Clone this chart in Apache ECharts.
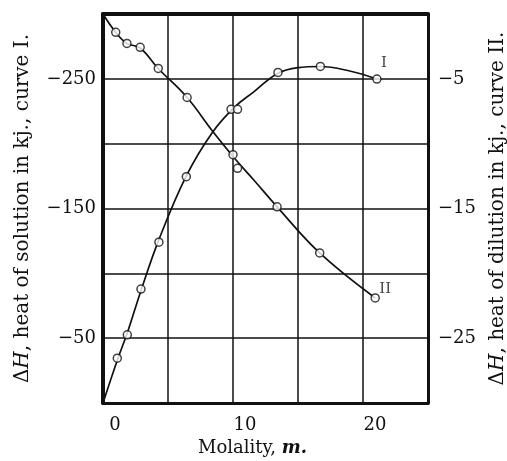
<!DOCTYPE html>
<html>
<head>
<meta charset="utf-8">
<script src="https://cdn.jsdelivr.net/npm/echarts@6/dist/echarts.min.js"></script>
<style>
html,body{margin:0;padding:0;background:#fff;}
#chart{width:507px;height:461px;}
</style>
</head>
<body>
<div id="chart"></div>
<script>
// Measured points, curve I (heat of solution, kJ, left axis)
const molalityI = [1.10, 1.87, 2.92, 4.30, 6.41, 9.85, 10.35, 13.46, 16.72, 21.07];
const heatSolution = [-34.6, -52.6, -87.9, -124, -174.5, -226.5, -226.5, -254.9, -259.6, -249.8];
// Drawn curve I
const curveIm = [0, 1.1, 1.9, 2.9, 4.3, 6.4, 8.4, 10.1, 11.6, 13.4, 15.0, 16.7, 18.9, 21.07];
const curveIv = [0, -33, -55, -86, -126, -175, -208.5, -228, -240, -254, -258.6, -259.5, -256.2, -249.8];

// Measured points, curve II (heat of dilution, kJ, right axis)
const molalityII = [0.98, 1.84, 2.86, 4.25, 6.47, 10.0, 10.35, 13.39, 16.67, 20.94];
const heatDilution = [-1.41, -2.27, -2.57, -4.20, -6.44, -10.85, -11.9, -14.87, -18.43, -21.9];
// Drawn curve II
const curveIIm = [0, 0.98, 1.84, 2.86, 4.25, 6.47, 8.4, 10.1, 11.6, 13.39, 16.67, 20.94];
const curveIIw = [0, -1.41, -2.27, -2.62, -4.20, -6.44, -9.0, -11.1, -12.8, -14.87, -18.43, -21.9];

const xTicks = [0, 10, 20];
const leftTicks = [-250, -150, -50];
const rightTicks = [-5, -15, -25];

const FONT = 'DejaVu Serif';
const zip = (a, b) => a.map((v, i) => [v, b[i]]);
const minus = v => '\u2212' + Math.abs(v);

const pointStyle = {color: '#fff', borderColor: '#111', borderWidth: 1.5};
const lineStyle = {color: '#111', width: 1.7};

function pts(xs, ys, labelText, offset) {
  return zip(xs, ys).map((p, i) => {
    if (i === xs.length - 1) {
      return {value: p, label: {show: true, formatter: labelText, position: 'inside', offset: offset,
        fontFamily: FONT, fontSize: 15, color: '#111'}};
    }
    return {value: p};
  });
}

const chart = echarts.init(document.getElementById('chart'), null, {renderer: 'canvas'});
chart.setOption({
  animation: false,
  backgroundColor: '#fff',
  grid: {left: 103, right: 79, top: 14, bottom: 58, containLabel: false, outerBoundsMode: 'none'},
  xAxis: [{
    type: 'value', min: 0, max: 25, interval: 5, position: 'bottom',
    axisLine: {show: true, onZero: false, lineStyle: {color: '#111', width: 3}},
    axisTick: {show: false},
    splitLine: {show: true, lineStyle: {color: '#111', width: 1.5}},
    axisLabel: {
      formatter: v => xTicks.includes(v) ? String(v) : '',
      fontFamily: FONT, fontSize: 18, color: '#111', margin: 13, padding: [0, 0, 0, 24]
    },
    name: 'Molality, {m|m.}', nameLocation: 'middle', nameGap: 25,
    nameTextStyle: {fontFamily: FONT, fontSize: 18, color: '#111', padding: [0, 26, 0, 0],
      rich: {m: {fontFamily: FONT, fontSize: 18, fontStyle: 'italic', fontWeight: 'bold', color: '#111'}}}
  }, {
    type: 'value', min: 0, max: 25, interval: 5, position: 'top',
    axisLine: {show: true, onZero: false, lineStyle: {color: '#111', width: 4}},
    axisTick: {show: false}, axisLabel: {show: false}, splitLine: {show: false}
  }],
  yAxis: [{
    type: 'value', min: -300, max: 0, interval: 50, inverse: true, position: 'left',
    axisLine: {show: true, onZero: false, lineStyle: {color: '#111', width: 4}},
    axisTick: {show: false},
    splitLine: {show: true, lineStyle: {color: '#111', width: 1.5}},
    axisLabel: {formatter: v => leftTicks.includes(v) ? minus(v) : '',
      fontFamily: FONT, fontSize: 18, color: '#111', margin: 7},
    name: '{a|\u0394}{h|H}{a|, heat of solution in kj., curve I.}',
    nameLocation: 'middle', nameGap: 70,
    nameTextStyle: {fontFamily: FONT, fontSize: 20, color: '#111',
      rich: {a: {fontFamily: FONT, fontSize: 20, color: '#111'},
             h: {fontFamily: FONT, fontSize: 20, fontStyle: 'italic', color: '#111'}}}
  }, {
    type: 'value', min: -30, max: 0, interval: 5, position: 'right',
    axisLine: {show: true, onZero: false, lineStyle: {color: '#111', width: 3}},
    axisTick: {show: false},
    splitLine: {show: false},
    axisLabel: {formatter: v => rightTicks.includes(v) ? minus(v) : '',
      fontFamily: FONT, fontSize: 18, color: '#111', margin: 10},
    name: '{a|\u0394}{h|H}{a|, heat of dilution in kj., curve II.}',
    nameLocation: 'middle', nameGap: 60,
    nameTextStyle: {fontFamily: FONT, fontSize: 20, color: '#111',
      rich: {a: {fontFamily: FONT, fontSize: 20, color: '#111'},
             h: {fontFamily: FONT, fontSize: 20, fontStyle: 'italic', color: '#111'}}}
  }],
  series: [{
    type: 'line', xAxisIndex: 0, yAxisIndex: 0, data: zip(curveIm, curveIv),
    smooth: 0.4, symbol: 'none', lineStyle: lineStyle, z: 3
  }, {
    type: 'scatter', xAxisIndex: 0, yAxisIndex: 0, data: pts(molalityI, heatSolution, 'I', [7, -16]),
    symbol: 'circle', symbolSize: 8, itemStyle: pointStyle, z: 5
  }, {
    type: 'line', xAxisIndex: 0, yAxisIndex: 1, data: zip(curveIIm, curveIIw),
    smooth: 0.4, symbol: 'none', lineStyle: lineStyle, z: 3
  }, {
    type: 'scatter', xAxisIndex: 0, yAxisIndex: 1, data: pts(molalityII, heatDilution, 'II', [10, -9]),
    symbol: 'circle', symbolSize: 8, itemStyle: pointStyle, z: 5
  }]
});
</script>
</body>
</html>
